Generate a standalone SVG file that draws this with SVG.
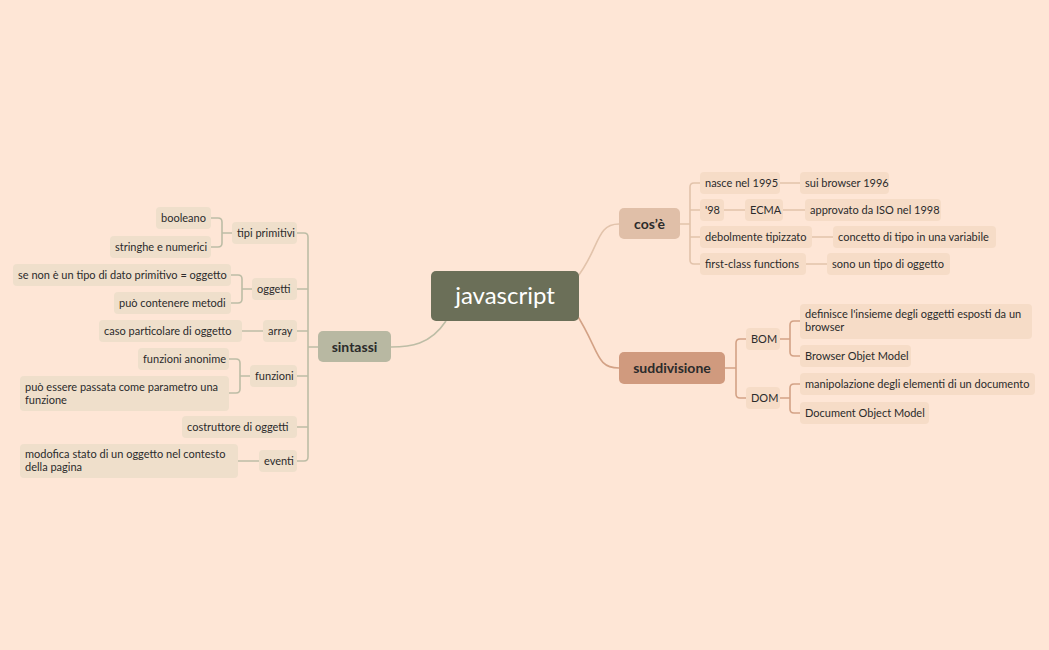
<svg xmlns="http://www.w3.org/2000/svg" width="1049" height="650" viewBox="0 0 1049 650">
<style>
text{font-family:Lato,"Open Sans","Liberation Sans",sans-serif;fill:#2b2b2b}
.t{font-size:11px}
.l{fill:#f6dcc7}
.s{fill:#efdfcb}
.b{font-size:14px;font-weight:bold}
.c{fill:none;stroke-width:1.6}
.cc{stroke:#e2c3ab}.cs{stroke:#d3a286}.cg{stroke:#bdbda6}
</style>
<rect width="1049" height="650" fill="#fee6d6"/>
<g id="connectors">
<path class="c cc" d="M575,280 C600,250 595,224 619,224"/>
<path class="c cs" d="M575,312 C600,350 595,368 619,368"/>
<path class="c cg" d="M446,321 C430,345 410,347 391,347"/>
<path class="c cc" d="M680,224 H690 M690,224 V187 Q690,183 694,183 H700 M690,224 V260 Q690,264 694,264 H700 M690,210 H700 M690,237 H700 M780,183 H800 M724,210 H745 M783,210 H805 M812,237 H833 M806,264 H827"/>
<path class="c cs" d="M725,368 H736 M736,368 V343 Q736,339 740,339 H746 M736,368 V394 Q736,398 740,398 H746 M780,339 H790 M790,339 V325 Q790,321 794,321 H800 M790,339 V352 Q790,356 794,356 H800 M780,398 H790 M790,398 V388 Q790,384 794,384 H800 M790,398 V409 Q790,413 794,413 H800"/>
<path class="c cg" d="M318,347 H308 M297,233 H304 Q308,233 308,237 V457 Q308,461 304,461 H297 M297,289 H308 M297,331 H308 M297,376 H308 M297,427 H308"/>
<path class="c cg" d="M232,233 H222 M211,218 H218 Q222,218 222,222 V243 Q222,247 218,247 H211 M252,289 H242 M231,275 H238 Q242,275 242,279 V299 Q242,303 238,303 H231 M263,331 H242 M250,376 H240 M229,359 H236 Q240,359 240,363 V389 Q240,393 236,393 H229 M259,461 H238"/>
</g>
<g id="javascript"><rect x="431" y="271" width="148" height="50" rx="5" fill="#6b6f58"/><text x="505" y="304" text-anchor="middle" style="font-size:24px;fill:#fff">javascript</text></g>
<g id="cose"><rect x="619" y="208" width="61" height="31" rx="5" fill="#e0bfa8"/><text class="b" x="649.5" y="229" text-anchor="middle">cos’è</text></g>
<g id="suddivisione"><rect x="619" y="352" width="106" height="32" rx="5" fill="#d09a7e"/><text class="b" x="672" y="373" text-anchor="middle">suddivisione</text></g>
<g id="sintassi"><rect x="318" y="331" width="73" height="31" rx="5" fill="#b8b8a2"/><text class="b" x="354.5" y="352" text-anchor="middle">sintassi</text></g>
<g id="n1"><rect class="l" x="700" y="172" width="80" height="22" rx="4"/><text class="t" x="705" y="187">nasce nel 1995</text></g>
<g id="n2"><rect class="l" x="800" y="172" width="89" height="22" rx="4"/><text class="t" x="805" y="187">sui browser 1996</text></g>
<g id="n3"><rect class="l" x="700" y="199" width="24" height="22" rx="4"/><text class="t" x="705" y="214">'98</text></g>
<g id="n4"><rect class="l" x="745" y="199" width="38" height="22" rx="4"/><text class="t" x="750" y="214">ECMA</text></g>
<g id="n5"><rect class="l" x="805" y="199" width="136" height="22" rx="4"/><text class="t" x="810" y="214">approvato da ISO nel 1998</text></g>
<g id="n6"><rect class="l" x="700" y="226" width="112" height="22" rx="4"/><text class="t" x="705" y="241">debolmente tipizzato</text></g>
<g id="n7"><rect class="l" x="833" y="226" width="163" height="22" rx="4"/><text class="t" x="838" y="241">concetto di tipo in una variabile</text></g>
<g id="n8"><rect class="l" x="700" y="253" width="106" height="22" rx="4"/><text class="t" x="705" y="268">first-class functions</text></g>
<g id="n9"><rect class="l" x="827" y="253" width="123" height="22" rx="4"/><text class="t" x="832" y="268">sono un tipo di oggetto</text></g>
<g id="bom"><rect class="l" x="746" y="328" width="34" height="22" rx="4"/><text class="t" x="751" y="343">BOM</text></g>
<g id="dom"><rect class="l" x="746" y="387" width="34" height="22" rx="4"/><text class="t" x="751" y="402">DOM</text></g>
<g id="n10"><rect class="l" x="800" y="304" width="232" height="35" rx="4"/><text class="t" x="805" y="318">definisce l'insieme degli oggetti esposti da un</text><text class="t" x="805" y="331">browser</text></g>
<g id="n11"><rect class="l" x="800" y="345" width="111" height="22" rx="4"/><text class="t" x="805" y="360">Browser Objet Model</text></g>
<g id="n12"><rect class="l" x="800" y="373" width="235" height="22" rx="4"/><text class="t" x="805" y="388">manipolazione degli elementi di un documento</text></g>
<g id="n13"><rect class="l" x="800" y="402" width="129" height="22" rx="4"/><text class="t" x="805" y="417">Document Object Model</text></g>
<g id="s1"><rect class="s" x="232" y="222" width="65" height="22" rx="4"/><text class="t" x="237" y="237">tipi primitivi</text></g>
<g id="s2"><rect class="s" x="252" y="278" width="45" height="22" rx="4"/><text class="t" x="257" y="293">oggetti</text></g>
<g id="s3"><rect class="s" x="263" y="320" width="34" height="22" rx="4"/><text class="t" x="268" y="335">array</text></g>
<g id="s4"><rect class="s" x="250" y="365" width="47" height="22" rx="4"/><text class="t" x="255" y="380">funzioni</text></g>
<g id="s5"><rect class="s" x="182" y="416" width="115" height="22" rx="4"/><text class="t" x="187" y="431">costruttore di oggetti</text></g>
<g id="s6"><rect class="s" x="259" y="450" width="38" height="22" rx="4"/><text class="t" x="264" y="465">eventi</text></g>
<g id="s7"><rect class="s" x="156" y="207" width="55" height="22" rx="4"/><text class="t" x="161" y="222">booleano</text></g>
<g id="s8"><rect class="s" x="110" y="236" width="101" height="22" rx="4"/><text class="t" x="115" y="251">stringhe e numerici</text></g>
<g id="s9"><rect class="s" x="13" y="264" width="218" height="22" rx="4"/><text class="t" x="18" y="279">se non è un tipo di dato primitivo = oggetto</text></g>
<g id="s10"><rect class="s" x="114" y="292" width="117" height="22" rx="4"/><text class="t" x="119" y="307">può contenere metodi</text></g>
<g id="s11"><rect class="s" x="99" y="320" width="143" height="22" rx="4"/><text class="t" x="104" y="335">caso particolare di oggetto</text></g>
<g id="s12"><rect class="s" x="138" y="348" width="91" height="22" rx="4"/><text class="t" x="143" y="363">funzioni anonime</text></g>
<g id="s13"><rect class="s" x="20" y="376" width="209" height="35" rx="4"/><text class="t" x="25" y="391">può essere passata come parametro una</text><text class="t" x="25" y="404">funzione</text></g>
<g id="s14"><rect class="s" x="20" y="444" width="218" height="34" rx="4"/><text class="t" x="25" y="458">modofica stato di un oggetto nel contesto</text><text class="t" x="25" y="471">della pagina</text></g>
</svg>
